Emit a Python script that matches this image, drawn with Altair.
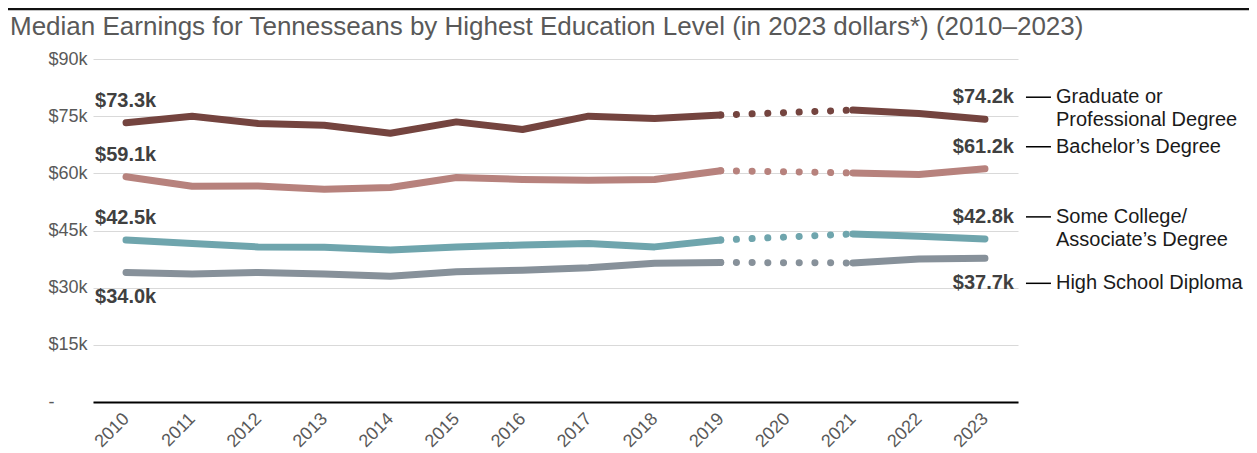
import altair as alt
import pandas as pd

# ---------------- data ----------------
years = list(range(2010, 2024))
series_names = [
    "Graduate or Professional Degree",
    "Bachelor’s Degree",
    "Some College/Associate’s Degree",
    "High School Diploma",
]
legend_text = [
    "Graduate or\nProfessional Degree",
    "Bachelor’s Degree",
    "Some College/\nAssociate’s Degree",
    "High School Diploma",
]
# median earnings in thousands of 2023 dollars (2020 not reported)
grad = [73.3, 75.0, 73.1, 72.6, 70.5, 73.5, 71.5, 75.0, 74.4, 75.3, None, 76.6, 75.7, 74.2]
bach = [59.1, 56.6, 56.7, 55.8, 56.3, 58.9, 58.4, 58.2, 58.4, 60.7, None, 60.1, 59.7, 61.2]
some = [42.5, 41.6, 40.7, 40.6, 39.9, 40.7, 41.2, 41.6, 40.7, 42.5, None, 44.1, 43.5, 42.8]
hs = [34.0, 33.6, 34.0, 33.6, 33.0, 34.2, 34.6, 35.2, 36.4, 36.6, None, 36.5, 37.5, 37.7]
series_values = [grad, bach, some, hs]
label_side = ["above", "above", "above", "below"]
colors = ["#74443F", "#B7827D", "#6FA5AD", "#87919A"]
y_ticks = [0, 15, 30, 45, 60, 75, 90]
title_text = "Median Earnings for Tennesseans by Highest Education Level (in 2023 dollars*) (2010–2023)"

rows = []
for name, leg, vals, side in zip(series_names, legend_text, series_values, label_side):
    for yr, v in zip(years, vals):
        if v is None:
            continue
        rows.append({
            "series": name,
            "legend": leg,
            "year": yr,
            "value": v,
            "segment": "pre" if yr <= 2019 else "post",
            "side": side,
            "label": f"${v:.1f}k",
        })
df = pd.DataFrame(rows)

FONT = "Liberation Sans"

x_enc = alt.X(
    "year:Q",
    scale=alt.Scale(domain=[2009.5, 2023.5], nice=False, zero=False),
    axis=alt.Axis(
        values=years, format="d", labelAngle=315, labelAlign="right",
        labelBaseline="middle", labelFontSize=18, labelColor="#595959",
        labelFont=FONT, ticks=False, tickSize=0, domainColor="#000000",
        domainWidth=2, grid=False, labelPadding=14, title=None,
    ),
)
y_enc = alt.Y(
    "value:Q",
    scale=alt.Scale(domain=[0, 90], nice=False, zero=True),
    axis=alt.Axis(
        values=y_ticks,
        labelExpr="datum.value == 0 ? '-' : '$' + datum.value + 'k'",
        labelFontSize=18, labelColor="#595959", labelFont=FONT,
        labelAlign="left", labelPadding=45, ticks=False, tickSize=0,
        domain=False, grid=True, gridColor="#d9d9d9", gridWidth=1, title=None,
    ),
)
color_enc = alt.Color(
    "series:N", scale=alt.Scale(domain=series_names, range=colors), legend=None
)

base = alt.Chart(df)

solid = base.mark_line(strokeWidth=7, strokeCap="round", strokeJoin="round").encode(
    x=x_enc, y=y_enc, color=color_enc, detail="segment:N"
)
dotted = base.transform_filter("datum.year == 2019 || datum.year == 2021").mark_line(
    strokeWidth=7, strokeCap="round", strokeDash=[0.1, 15.6]
).encode(x="year:Q", y="value:Q", color=color_enc, detail="series:N")

lab_style = dict(fontWeight="bold", fontSize=20, color="#404040", font=FONT, baseline="middle")
start_above = base.transform_filter("datum.year == 2010 && datum.side == 'above'").mark_text(
    align="left", dx=-31, dy=-22, **lab_style
).encode(x="year:Q", y="value:Q", text="label:N")
start_below = base.transform_filter("datum.year == 2010 && datum.side == 'below'").mark_text(
    align="left", dx=-31, dy=25, **lab_style
).encode(x="year:Q", y="value:Q", text="label:N")
end_above = base.transform_filter("datum.year == 2023 && datum.side == 'above'").mark_text(
    align="right", dx=29, dy=-22, **lab_style
).encode(x="year:Q", y="value:Q", text="label:N")
end_below = base.transform_filter("datum.year == 2023 && datum.side == 'below'").mark_text(
    align="right", dx=29, dy=25, **lab_style
).encode(x="year:Q", y="value:Q", text="label:N")

leg_style = dict(fontSize=20, color="#1a1a1a", font=FONT, baseline="middle",
                 lineBreak="\n", lineHeight=23, align="left")
leg_above = base.transform_filter("datum.year == 2023 && datum.side == 'above'").mark_text(
    dx=71, dy=-22, **leg_style
).encode(x="year:Q", y="value:Q", text="legend:N")
leg_below = base.transform_filter("datum.year == 2023 && datum.side == 'below'").mark_text(
    dx=71, dy=25, **leg_style
).encode(x="year:Q", y="value:Q", text="legend:N")

rule_above = base.transform_filter("datum.year == 2023 && datum.side == 'above'").mark_rule(
    xOffset=41, x2Offset=66, yOffset=-22, color="#000000", strokeWidth=1.5
).encode(x="year:Q", x2="year:Q", y="value:Q")
rule_below = base.transform_filter("datum.year == 2023 && datum.side == 'below'").mark_rule(
    xOffset=41, x2Offset=66, yOffset=25, color="#000000", strokeWidth=1.5
).encode(x="year:Q", x2="year:Q", y="value:Q")

deco = alt.Chart(pd.DataFrame({"title": [title_text]}))
top_rule = deco.mark_rule(color="#111111", strokeWidth=2.5).encode(
    x=alt.value(-85), x2=alt.value(1160), y=alt.value(-50)
)
title_mark = deco.mark_text(
    align="left", baseline="alphabetic", fontSize=26, font=FONT, color="#595959"
).encode(x=alt.value(-83), y=alt.value(-24), text="title:N")

chart = alt.layer(
    solid, dotted, start_above, start_below, end_above, end_below,
    leg_above, leg_below, rule_above, rule_below, top_rule, title_mark,
).properties(
    width=925,
    height=343,
    autosize="none",
    padding={"left": 85, "top": 51, "right": 231, "bottom": 51},
).configure_view(stroke=None)

chart.save("out.html", embed_options={"renderer": "svg", "actions": False})
